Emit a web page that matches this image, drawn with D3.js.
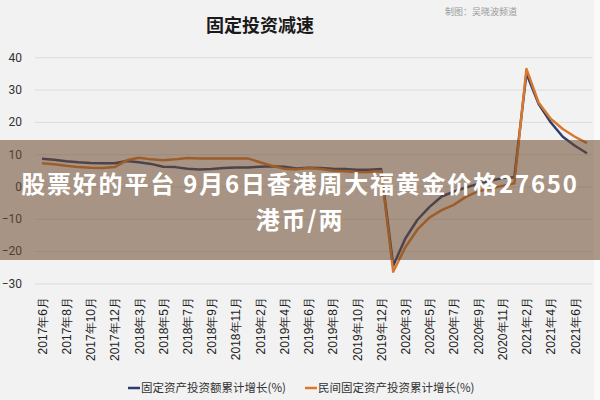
<!DOCTYPE html>
<html><head><meta charset="utf-8">
<script src="https://cdn.jsdelivr.net/npm/d3@7"></script>
<style>
html,body{margin:0;padding:0;background:#f2f2f2;}
svg{display:block;font-family:"Noto Sans CJK SC","Noto Sans",sans-serif;}
</style></head>
<body>
<svg id="c" width="600" height="400"></svg>
<script>
const months = [
"2017年6月","2017年7月","2017年8月","2017年9月","2017年10月","2017年11月","2017年12月",
"2018年2月","2018年3月","2018年4月","2018年5月","2018年6月","2018年7月","2018年8月","2018年9月","2018年10月","2018年11月","2018年12月",
"2019年2月","2019年3月","2019年4月","2019年5月","2019年6月","2019年7月","2019年8月","2019年9月","2019年10月","2019年11月","2019年12月",
"2020年2月","2020年3月","2020年4月","2020年5月","2020年6月","2020年7月","2020年8月","2020年9月","2020年10月","2020年11月","2020年12月",
"2021年2月","2021年3月","2021年4月","2021年5月","2021年6月","2021年7月"];
const totalFAI = [8.6,8.3,7.8,7.5,7.3,7.2,7.2,
7.9,7.5,7.0,6.1,6.0,5.5,5.3,5.4,5.7,5.9,5.9,
6.1,6.3,6.1,5.6,5.8,5.7,5.5,5.4,5.2,5.2,5.4,
-24.5,-16.1,-10.3,-6.3,-3.1,-1.6,-0.3,0.8,1.8,2.6,2.9,
35.0,25.6,19.9,15.4,12.6,10.3];
const privateFAI = [7.2,6.9,6.4,6.0,5.8,5.7,6.0,
8.1,8.9,8.4,8.1,8.4,8.8,8.7,8.7,8.7,8.7,8.7,
7.5,6.4,5.5,5.3,5.7,5.4,4.9,4.7,4.4,4.5,4.7,
-26.4,-18.8,-13.3,-9.6,-7.3,-5.7,-3.2,-1.5,-0.7,0.2,1.0,
36.4,26.0,21.0,17.8,15.4,13.4];
const yTicks = [-30,-20,-10,0,10,20,30,40];
const seriesNames = ["固定资产投资额累计增长(%)","民间固定资产投资累计增长(%)"];
const seriesColors = ["#2b3f6e","#d9782d"];
const title = "固定投资减速";
const credit = "制图：吴晓波频道";
const bannerLines = ["股票好的平台 9月6日香港周大福黄金价格27650","港币/两"];

const svg = d3.select("#c");
svg.append("rect").attr("width",600).attr("height",400).attr("fill","#f2f2f2");
svg.append("rect").attr("x",594).attr("width",6).attr("height",400).attr("fill","#fafafa");

const x = d3.scalePoint().domain(months).range([42, 587]);
const y = d3.scaleLinear().domain([-30,40]).range([283.4, 57.3]);

// title & credit
svg.append("text").attr("x",260).attr("y",32).attr("text-anchor","middle")
  .attr("font-size",18).attr("font-weight","bold").attr("fill","#1a1a1a").text(title);
svg.append("text").attr("x",517).attr("y",15).attr("text-anchor","end")
  .attr("font-size",9).attr("fill","#9a9a9a").text(credit);

// grid
const yAxis = d3.axisLeft(y).tickValues(yTicks).tickSize(-557).tickPadding(13).tickFormat(d3.format("d"));
const gy = svg.append("g").attr("transform","translate(35,0)").call(yAxis);
gy.select(".domain").remove();
gy.selectAll(".tick line").attr("stroke","#dcdcdc").attr("stroke-width",1);
gy.selectAll(".tick text").attr("font-size",12).attr("fill","#333")
  .attr("font-family","Roboto,'Noto Sans',sans-serif");

// x axis
const xAxis = d3.axisBottom(x).tickValues(months.filter((d,i)=>i%2===0)).tickSize(0).tickPadding(0);
const gx = svg.append("g").attr("transform","translate(0,297)").call(xAxis);
gx.select(".domain").remove();
gx.selectAll(".tick text").attr("font-size",12).attr("fill","#222")
  .attr("transform","rotate(-90)").attr("text-anchor","end")
  .attr("x",0).attr("y",0).attr("dy","0.35em");

// lines
const line = d3.line().x((d,i)=>x(months[i])).y(d=>y(d));
[totalFAI, privateFAI].forEach((s,k)=>{
  svg.append("path").datum(s).attr("d",line).attr("fill","none")
    .attr("stroke",seriesColors[k]).attr("stroke-width",2.5).attr("stroke-linejoin","round");
});

// legend
const lg = svg.append("g").attr("font-size",11.5).attr("fill","#333");
const lx = [128, 305];
seriesNames.forEach((n,k)=>{
  lg.append("line").attr("x1",lx[k]).attr("x2",lx[k]+12).attr("y1",388).attr("y2",388)
    .attr("stroke",seriesColors[k]).attr("stroke-width",2.5);
  lg.append("text").attr("x",lx[k]+13).attr("y",392).attr("fill","#333").text(n);
});

// banner overlay
svg.append("rect").attr("x",0).attr("y",140).attr("width",600).attr("height",120)
  .attr("fill","rgb(107,71,42)").attr("fill-opacity",0.55);
svg.append("text").attr("x",300).attr("y",193).attr("text-anchor","middle")
  .attr("font-size",24).attr("font-weight","bold").attr("fill","#fff")
  .attr("letter-spacing",1.8).text(bannerLines[0]);
svg.append("text").attr("x",300).attr("y",229).attr("text-anchor","middle")
  .attr("font-size",24).attr("font-weight","bold").attr("fill","#fff")
  .attr("letter-spacing",1.8).text(bannerLines[1]);
</script>
</body></html>
